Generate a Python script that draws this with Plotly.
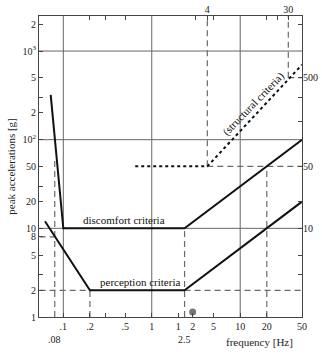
import math
import plotly.graph_objects as go

# ---- data ----
discomfort_x = [0.072, 0.1, 2.35, 50]
discomfort_y = [320, 10, 10, 100]
perception_x = [0.062, 0.2, 2.35, 50]
perception_y = [12, 2, 2, 20]
structural_x = [0.65, 4.25, 50]
structural_y = [50, 50, 700]

# dashed guide segments: (x0, x1, y0, y1)
guides = [
    (0.08, 0.08, 1, 60),
    (0.054, 0.08, 8, 8),
    (0.054, 0.2, 2, 2),
    (0.2, 0.2, 1, 2),
    (2.35, 50, 2, 2),
    (2.35, 2.35, 1, 10),
    (20, 20, 1, 50),
    (4.25, 50, 50, 50),
    (4.25, 4.25, 50, 2500),
    (35, 35, 500, 2500),
    (35, 50, 500, 500),
]
grid_x = [0.1, 1, 10]
grid_y = [10, 100, 1000]
dot_x = [2.9]
dot_y = [1.14]

bottom_tickvals = [0.1, 0.2, 0.3, 0.5, 1, 2, 2.9, 5, 10, 20, 50]
bottom_ticktext = [".1", ".2", " ", ".5", "1", "1", "2", "5", "10", "20", "50"]
top_tickvals = [0.2, 0.3, 0.5, 3.15, 4.25, 5, 20, 26.5, 35]
top_ticktext = [" ", " ", " ", " ", "4", " ", " ", " ", "30"]
left_tickvals = [1, 2, 3, 5, 8, 10, 20, 30, 50, 100, 200, 300, 500, 1000, 2000]
left_ticktext = ["1", "2", " ", "5", "8", "10", "20", " ", "50", "10<sup>2</sup>", "2", " ", "5",
                 "10<sup>3</sup>", "2"]
right_tickvals = [3, 5, 10, 20, 50, 160, 300, 500, 2000]
right_ticktext = [" ", " ", "10", " ", "50", " ", " ", "500", " "]

XR = [-1.275, math.log10(50)]
YR = [0, 3.395]
FONT = "Liberation Serif, Times New Roman, DejaVu Serif, serif"

fig = go.Figure()

for gx in grid_x:
    fig.add_trace(go.Scatter(x=[gx, gx], y=[1, 2500], mode="lines",
                             line=dict(color="#666", width=1), hoverinfo="skip", showlegend=False))
for gy in grid_y:
    fig.add_trace(go.Scatter(x=[0.05, 50], y=[gy, gy], mode="lines",
                             line=dict(color="#666", width=1), hoverinfo="skip", showlegend=False))

for x0, x1, y0, y1 in guides:
    fig.add_trace(go.Scatter(x=[x0, x1], y=[y0, y1], mode="lines",
                             line=dict(color="#6a6a6a", width=1.2, dash="6px,4px"),
                             hoverinfo="skip", showlegend=False))

fig.add_trace(go.Scatter(x=discomfort_x, y=discomfort_y, mode="lines",
                         line=dict(color="#111", width=2), showlegend=False))
fig.add_trace(go.Scatter(x=perception_x, y=perception_y, mode="lines",
                         line=dict(color="#111", width=2), showlegend=False))
fig.add_trace(go.Scatter(x=structural_x, y=structural_y, mode="lines",
                         line=dict(color="#111", width=2, dash="dot"), showlegend=False))
fig.add_trace(go.Scatter(x=dot_x, y=dot_y, mode="markers",
                         marker=dict(color="#777", size=7), showlegend=False))

# invisible trace for secondary axes
fig.add_trace(go.Scatter(x=[1], y=[10], xaxis="x2", yaxis="y2", mode="markers",
                         marker=dict(opacity=0), showlegend=False, hoverinfo="skip"))

tickfont = dict(family=FONT, size=10, color="#222")
common = dict(type="log", showgrid=False, zeroline=False, ticks="inside", ticklen=4,
              tickcolor="#444", tickfont=tickfont, tickmode="array", automargin=False)

fig.update_layout(
    template="none",
    width=322, height=354,
    margin=dict(l=39, r=20, t=16, b=37),
    paper_bgcolor="white", plot_bgcolor="white",
    font=dict(family=FONT, size=10, color="#222"),
    xaxis=dict(range=XR, tickvals=bottom_tickvals, ticktext=bottom_ticktext,
               showline=True, linecolor="#444", linewidth=1, mirror=True, **common),
    yaxis=dict(range=YR, tickvals=left_tickvals, ticktext=left_ticktext,
               showline=True, linecolor="#444", linewidth=1, mirror=True,
               title=dict(text="peak accelerations [g]", font=dict(family=FONT, size=11),
                          standoff=4), **common),
    xaxis2=dict(range=XR, overlaying="x", side="top", tickvals=top_tickvals,
                ticktext=top_ticktext, showline=False, **common),
    yaxis2=dict(range=YR, overlaying="y", side="right", tickvals=right_tickvals,
                ticktext=right_ticktext, showline=False, **common),
    annotations=[
        dict(text="discomfort criteria", x=math.log10(0.16), y=1, xref="x", yref="y",
             xanchor="left", yanchor="bottom", showarrow=False,
             font=dict(family=FONT, size=11, color="#111")),
        dict(text="perception criteria", x=math.log10(0.245), y=math.log10(2), xref="x", yref="y",
             xanchor="left", yanchor="bottom", showarrow=False,
             font=dict(family=FONT, size=11, color="#111")),
        dict(text="(structural criteria)", x=math.log10(14.3), y=math.log10(255), xref="x", yref="y",
             textangle=-46, showarrow=False, font=dict(family=FONT, size=11, color="#111")),
        dict(text=".08", x=math.log10(0.08), y=-0.075, xref="x", yref="paper",
             yanchor="middle", showarrow=False, font=dict(family=FONT, size=10, color="#222")),
        dict(text="2.5", x=math.log10(2.35), y=-0.075, xref="x", yref="paper",
             yanchor="middle", showarrow=False, font=dict(family=FONT, size=10, color="#222")),
        dict(text="frequency [Hz]", x=0.975, y=-0.083, xref="paper", yref="paper",
             xanchor="right", yanchor="middle", showarrow=False,
             font=dict(family=FONT, size=11, color="#222")),
    ],
)

# remove the page's default 8px body margin so the figure sits at the window's corner
fig.write_html("out.html", config={"displayModeBar": False},
               post_script="document.body.style.margin='0px';")
